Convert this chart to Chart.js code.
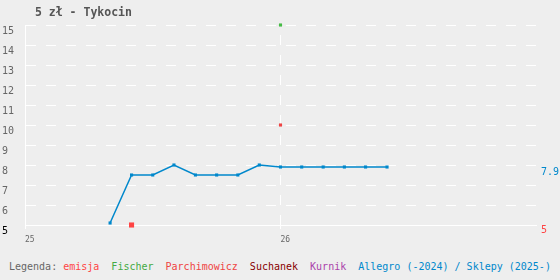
<!DOCTYPE html>
<html>
<head>
<meta charset="utf-8">
<script src="https://cdn.jsdelivr.net/npm/chart.js@4"></script>
<style>
html, body { margin:0; padding:0; background:#eee; }
#wrap { position:relative; width:560px; height:280px; background:#eee; font-family:"DejaVu Sans Mono", monospace; }
#title { position:absolute; left:35px; top:4px; font-size:11.5px; font-weight:bold; color:#555; line-height:16px; }
#chart { position:absolute; left:0; top:0; }
#legend { position:absolute; left:9px; top:260px; font-size:10px; line-height:14px; color:#666; white-space:pre; }
</style>
</head>
<body>
<div id="wrap">
  <canvas id="chart" width="560" height="250"></canvas>
  <div id="title">5 zł - Tykocin</div>
  <div id="legend">Legenda: <span style="color:#f44">emisja</span>  <span style="color:#4a4">Fischer</span>  <span style="color:#e44">Parchimowicz</span>  <span style="color:#800">Suchanek</span>  <span style="color:#a4a">Kurnik</span>  <span style="color:#08c">Allegro (-2024) / Sklepy (2025-)</span></div>
</div>
<script>
// dane (oś X: rok, 25 = 2025)
const allegroX = [25.333, 25.417, 25.5, 25.583, 25.667, 25.75, 25.833, 25.917, 26.0, 26.083, 26.167, 26.25, 26.333, 26.417];
const allegroY = [5.1, 7.5, 7.5, 8.0, 7.5, 7.5, 7.5, 8.0, 7.9, 7.9, 7.9, 7.9, 7.9, 7.9];
const emisjaX = [25.417];
const emisjaY = [5];
const fischerX = [26.0];
const fischerY = [15];
const parchX = [26.0];
const parchY = [10];
const yTicks = [5, 6, 7, 8, 9, 10, 11, 12, 13, 14, 15];
const xTicks = [25, 26];
const lastValues = [7.9, 5];

const FONT = '"DejaVu Sans Mono", monospace';
const pts = (xs, ys) => xs.map((x, i) => ({x: x, y: ys[i]}));

new Chart(document.getElementById('chart'), {
    type: 'line',
    data: {
        datasets: [
            { label:'Allegro', data: pts(allegroX, allegroY), borderColor:'#08c', backgroundColor:'#08c',
              borderWidth:1.5, pointStyle:'rect', pointRadius:2.2, pointBorderWidth:0, tension:0, clip:false },
            { label:'emisja', type:'scatter', data: pts(emisjaX, emisjaY), backgroundColor:'#f44',
              pointStyle:'rect', pointRadius:3.6, pointBorderWidth:0, clip:false },
            { label:'Fischer', type:'scatter', data: pts(fischerX, fischerY), backgroundColor:'#4b4',
              pointStyle:'rect', pointRadius:2.2, pointBorderWidth:0, clip:false },
            { label:'Parchimowicz', type:'scatter', data: pts(parchX, parchY), backgroundColor:'#e44',
              pointStyle:'rect', pointRadius:2.2, pointBorderWidth:0, clip:false }
        ]
    },
    options: {
        responsive:false, animation:false,
        layout: { padding: { top:25, left:2, right:0, bottom:0 } },
        plugins: { legend: { display:false }, tooltip: { enabled:false } },
        scales: {
            x: {
                type:'linear', min:25, max:27,
                afterBuildTicks: s => { s.ticks = xTicks.map(v => ({value:v})); },
                grid: { color:'#fff', lineWidth:1, tickLength:4 },
                border: { color:'#fff', width:1, dash:[10,10], dashOffset:10 },
                ticks: { align:'start', color:'#666', font:{family:FONT, size:8}, padding:6, maxRotation:0 },
                afterFit: s => { s.height = 25; }
            },
            y: {
                position:'left', min:5, max:15,
                afterBuildTicks: s => { s.ticks = yTicks.map(v => ({value:v})); },
                grid: { color:'#fff', lineWidth:1, drawTicks:false },
                border: { color:'#fff', width:1, dash:[10,10] },
                ticks: { crossAlign:'far', padding:0, labelOffset:6, font:{family:FONT, size:10},
                         color: c => c.tick && c.tick.value === 5 ? '#000' : '#666' },
                afterFit: s => { s.width = 23; }
            },
            y2: {
                position:'right', min:5, max:15,
                afterBuildTicks: s => { s.ticks = lastValues.map(v => ({value:v})); },
                grid: { display:false, drawTicks:false },
                border: { display:false },
                ticks: { padding:5, labelOffset:5, font:{family:FONT, size:10},
                         color: c => c.index === 0 ? '#08c' : '#f44' },
                afterFit: s => { s.width = 24; }
            }
        }
    }
});
</script>
</body>
</html>
